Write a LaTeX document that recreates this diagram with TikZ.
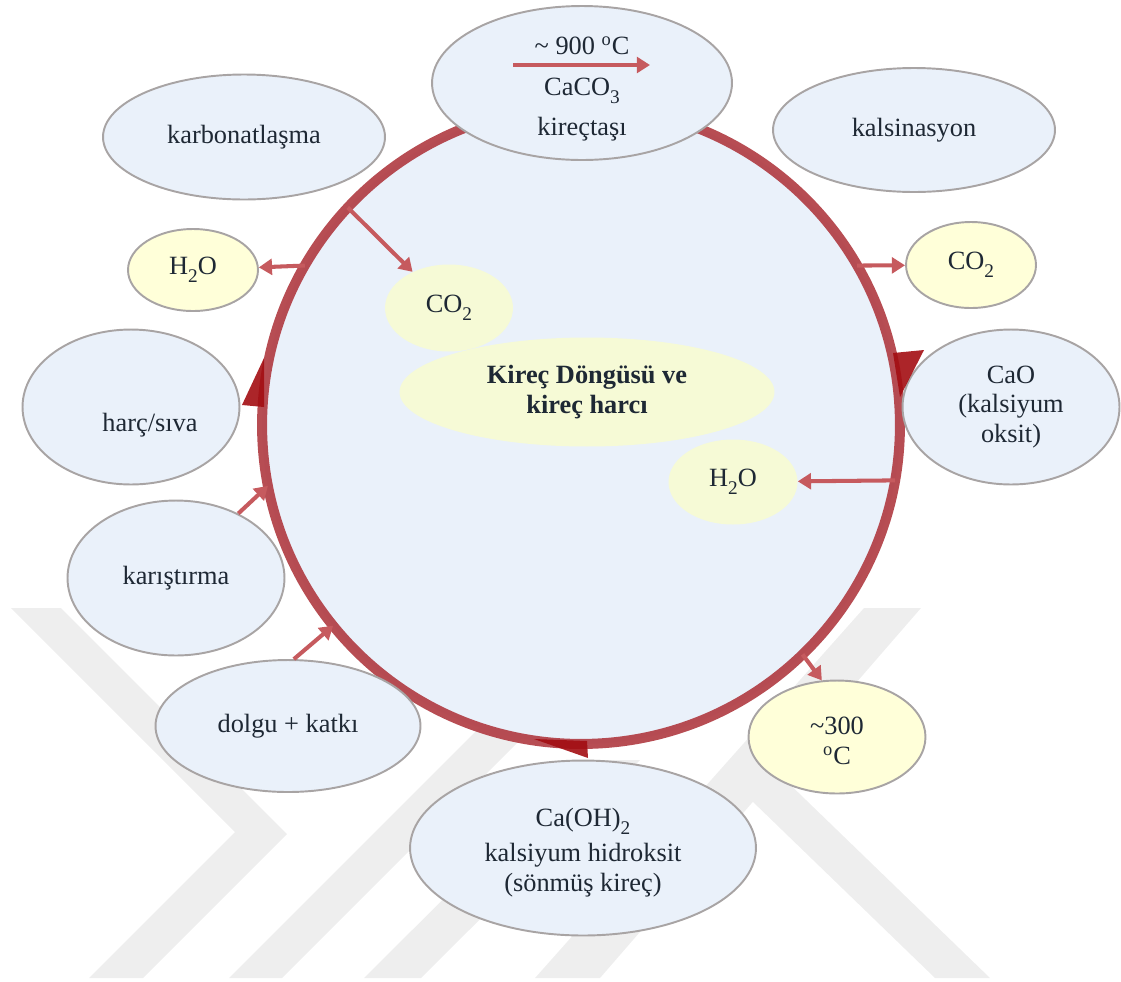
\documentclass[tikz,border=0pt]{standalone}
\usepackage{fontspec}
\setmainfont{Liberation Serif}
\usetikzlibrary{shapes.geometric, arrows.meta}
\definecolor{cyclefill}{HTML}{EAF1FA}
\definecolor{ellborder}{HTML}{A8A4A4}
\definecolor{paleyellow}{HTML}{FFFFD9}
\definecolor{innyellow}{HTML}{F6FAD6}
\definecolor{ringred}{HTML}{B3434A}
\definecolor{tipred}{HTML}{A30D12}
\definecolor{arrowred}{HTML}{C65A5E}
\definecolor{inktext}{HTML}{1E2834}
\definecolor{markgray}{HTML}{EEEEEE}
\newcommand{\chemsub}[1]{\raisebox{-4.5pt}{\fontsize{11}{11}\selectfont #1}}
\tikzstyle{arrow} = [line width=2.3pt, draw=arrowred, -{Triangle[length=7.5pt,width=9pt]}]

\begin{document}
\begin{tikzpicture}[x=0.02cm, y=-0.02cm, nodes={text=inktext, font=\fontsize{15}{17}\selectfont, align=center}]
        \tikzstyle{bubble} = [ellipse, draw=ellborder, line width=1.1pt, fill=cyclefill, inner sep=0pt]
        \tikzstyle{drop} = [ellipse, draw=ellborder, line width=1.1pt, fill=paleyellow, inner sep=0pt]
        \tikzstyle{inner} = [ellipse, fill=innyellow, inner sep=0pt]
        \tikzstyle{tip} = [fill=tipred, opacity=0.9]

        \useasboundingbox (0,0) rectangle (1121,981);

        % watermark
        \fill[markgray] (11,608) -- (61,608) -- (287,834) -- (143,978) -- (89,978) -- (235,832) -- cycle;
        \fill[markgray] (229,978) -- (282,978) -- (640,620) -- (587,620) -- cycle;
        \fill[markgray] (364,978) -- (421,978) -- (640,760) -- (583,760) -- cycle;
        \fill[markgray] (535,978) -- (600,978) -- (921,608) -- (864,608) -- cycle;
        \fill[markgray] (720,770) -- (775,770) -- (990,978) -- (935,978) -- cycle;

        % cycle
        \node[circle, draw=ringred, draw opacity=0.95, line width=5.7pt, fill=cyclefill, minimum size=12.76cm, outer sep=0pt] (ring) at (581,425) {};

        \node[inner, minimum width=2.56cm, minimum height=1.74cm] (co2in) at (449,308) {CO\chemsub{2}};
        \node[inner, minimum width=7.5cm, minimum height=2.18cm] (cycle) at (587,392) {\textbf{Kireç Döngüsü ve}\\\textbf{kireç harcı}};
        \node[inner, minimum width=2.58cm, minimum height=1.7cm] (h2oin) at (733,482) {H\chemsub{2}O};

        \node[bubble, minimum width=6cm, minimum height=3.08cm, label={[yshift=-0.12cm]center:\textasciitilde{} 900 \textsuperscript{o}C\\[6pt]CaCO\chemsub{3}\\[6pt]kireçtaşı}] (caco3) at (582,83) {};
        \node[bubble, minimum width=5.64cm, minimum height=2.5cm] (karbon) at (244,137) {karbonatlaşma};
        \node[bubble, minimum width=5.64cm, minimum height=2.48cm] (kalsin) at (914,130) {kalsinasyon};
        \node[drop, minimum width=2.6cm, minimum height=1.64cm] (h2oL) at (193,270) {H\chemsub{2}O};
        \node[drop, minimum width=2.6cm, minimum height=1.72cm] (co2R) at (971,265) {CO\chemsub{2}};
        \node[bubble, minimum width=4.34cm, minimum height=3.1cm, label={[xshift=0.38cm, yshift=-0.36cm]center:harç/sıva}] (harc) at (131,407) {};
        \node[bubble, minimum width=4.34cm, minimum height=3.1cm] (cao) at (1011,407) {CaO\\(kalsiyum\\oksit)};
        \node[bubble, minimum width=4.34cm, minimum height=3.1cm] (karis) at (176,578) {karıştırma};
        \node[bubble, minimum width=5.3cm, minimum height=2.64cm] (dolgu) at (288,726) {dolgu + katkı};
        \node[drop, minimum width=3.54cm, minimum height=2.26cm, label={[yshift=-0.08cm]center:\textasciitilde300\\\textsuperscript{o}C}] (t300) at (837,737) {};
        \node[bubble, minimum width=6.92cm, minimum height=3.5cm, label={[yshift=-0.1cm]center:Ca(OH)\chemsub{2}\\[3pt]kalsiyum hidroksit\\(sönmüş kireç)}] (caoh) at (583,848) {};

        % direction marks on the cycle
        \fill[tip] (242,405) -- (264,358) -- (264,407) -- cycle;
        \fill[tip] (893,353) -- (924,350) -- (900,397) -- cycle;
        \fill[tip] (534,739) -- (587,741) -- (588,758) -- cycle;

        % heating arrow
        \coordinate (heatA) at (513,65);
        \coordinate (heatB) at (650,65);
        \draw[arrow] (heatA) -- (heatB);

        \draw[arrow] (ring.137) -- (co2in);
        \draw[arrow] (ring.150) -- (h2oL);
        \draw[arrow] (ring.30) -- (co2R);
        \draw[arrow] (ring.-10.5) -- (h2oin);
        \draw[arrow] (karis.46) -- (ring.191);
        \draw[arrow] (dolgu.85) -- (ring.219);
        \draw[arrow] (ring.-46) -- (t300.105);
\end{tikzpicture}
\end{document}
